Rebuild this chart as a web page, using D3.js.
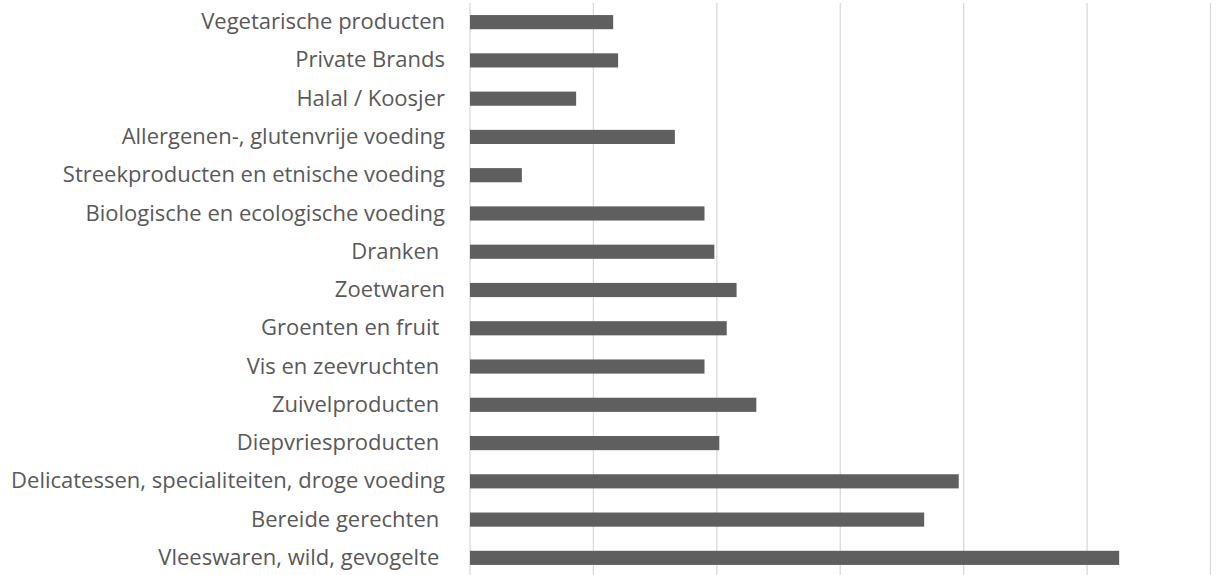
<!DOCTYPE html>
<html>
<head>
<meta charset="utf-8">
<script src="https://cdn.jsdelivr.net/npm/d3@7"></script>
<style>
body { margin: 0; background: #fff; }
text { white-space: pre; }
</style>
</head>
<body>
<script>
var categories = [
  "Vegetarische producten",
  "Private Brands",
  "Halal / Koosjer",
  "Allergenen-, glutenvrije voeding",
  "Streekproducten en etnische voeding",
  "Biologische en ecologische voeding",
  "Dranken ",
  "Zoetwaren",
  "Groenten en fruit ",
  "Vis en zeevruchten ",
  "Zuivelproducten ",
  "Diepvriesproducten ",
  "Delicatessen, specialiteiten, droge voeding",
  "Bereide gerechten ",
  "Vleeswaren, wild, gevogelte "
];
var values = [5.8, 6.0, 4.3, 8.3, 2.1, 9.5, 9.9, 10.8, 10.4, 9.5, 11.6, 10.1, 19.8, 18.4, 26.3];
var gridTicks = [0, 5, 10, 15, 20, 25, 30];

var width = 1217, height = 575;
var svg = d3.select('body').append('svg')
  .attr('width', width)
  .attr('height', height);

var x = d3.scaleLinear().domain([0, 30]).range([470, 1210.5]);
var y = d3.scaleBand().domain(categories).range([3, 577]).paddingInner(0.63).paddingOuter(0.315);

svg.append('g').selectAll('line')
  .data(gridTicks)
  .enter().append('line')
  .attr('x1', function(d){ return x(d); })
  .attr('x2', function(d){ return x(d); })
  .attr('y1', 3)
  .attr('y2', 575)
  .attr('stroke', '#d9d9d9')
  .attr('stroke-width', 1.3);

svg.append('g').selectAll('rect')
  .data(values)
  .enter().append('rect')
  .attr('x', x(0))
  .attr('y', function(d, i){ return y(categories[i]); })
  .attr('width', function(d){ return x(d) - x(0); })
  .attr('height', y.bandwidth())
  .attr('fill', '#5f5f5f');

var yAxis = d3.axisLeft(y).tickSize(0).tickPadding(25);
var ag = svg.append('g')
  .attr('transform', 'translate(' + x(0) + ',0)')
  .call(yAxis);
ag.select('.domain').remove();
ag.selectAll('text')
  .attr('fill', '#595959')
  .style('font-family', '"Open Sans", sans-serif')
  .style('font-size', '22px');
</script>
</body>
</html>
